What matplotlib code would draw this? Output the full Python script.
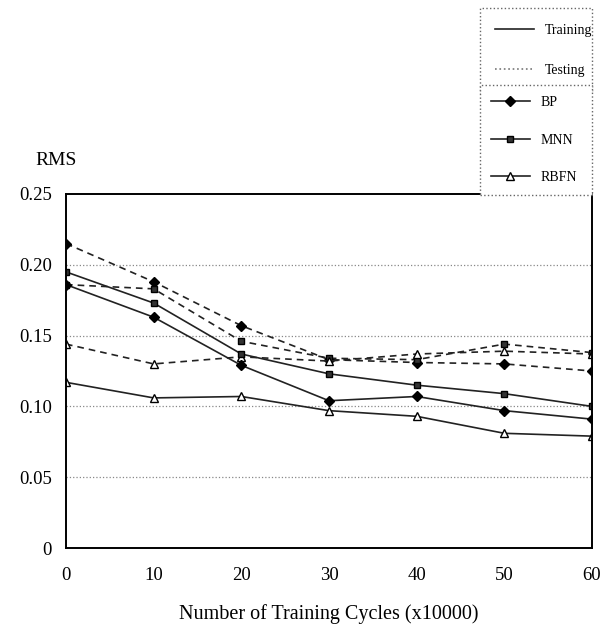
"""
RMS vs number of training cycles for BP, MNN and RBFN.
"""

import matplotlib

matplotlib.use("Agg")

import matplotlib.pyplot as plt
from matplotlib.lines import Line2D

plt.rcParams["font.family"] = ["Liberation Serif", "DejaVu Serif"]

ciclos = [0, 10, 20, 30, 40, 50, 60]

bp_treino = [0.186, 0.163, 0.129, 0.104, 0.107, 0.097, 0.091]
bp_teste = [0.215, 0.188, 0.157, 0.133, 0.131, 0.130, 0.125]

mnn_treino = [0.195, 0.173, 0.137, 0.123, 0.115, 0.109, 0.100]
mnn_teste = [0.186, 0.183, 0.146, 0.134, 0.133, 0.144, 0.138]

rbfn_treino = [0.117, 0.106, 0.107, 0.097, 0.093, 0.081, 0.079]
rbfn_teste = [0.144, 0.130, 0.135, 0.132, 0.137, 0.139, 0.137]

ticks_y = [0, 0.05, 0.10, 0.15, 0.20, 0.25]
rotulos_y = ["0", "0.05", "0.10", "0.15", "0.20", "0.25"]

tracejado = (0, (4, 3))

fig = plt.figure(figsize=(6.02, 6.35), dpi=100)
ax = fig.add_axes([0.1096, 0.137, 0.8738, 0.5575])

for valor in ticks_y[1:-1]:
    ax.axhline(valor, color="#888888", linestyle=":", linewidth=0.9, zorder=0)

# testing (dashed)
ax.plot(ciclos, bp_teste, color="#222222", linestyle=tracejado, linewidth=1.2,
        marker="D", markersize=5, markerfacecolor="black", markeredgecolor="black")
ax.plot(ciclos, mnn_teste, color="#222222", linestyle=tracejado, linewidth=1.2,
        marker="s", markersize=5, markerfacecolor="#333333", markeredgecolor="black")
ax.plot(ciclos, rbfn_teste, color="#222222", linestyle=tracejado, linewidth=1.2,
        marker="^", markersize=6, markerfacecolor="white", markeredgecolor="black")

# training (solid)
ax.plot(ciclos, bp_treino, color="#222222", linestyle="-", linewidth=1.2,
        marker="D", markersize=5, markerfacecolor="black", markeredgecolor="black")
ax.plot(ciclos, mnn_treino, color="#222222", linestyle="-", linewidth=1.2,
        marker="s", markersize=5, markerfacecolor="#333333", markeredgecolor="black")
ax.plot(ciclos, rbfn_treino, color="#222222", linestyle="-", linewidth=1.2,
        marker="^", markersize=6, markerfacecolor="white", markeredgecolor="black")

ax.set_xlim(0, 60)
ax.set_ylim(0, 0.25)
ax.set_xticks(ciclos)
ax.set_yticks(ticks_y)
ax.set_yticklabels(rotulos_y)
ax.tick_params(length=0, labelsize=13.5, pad=10)
ax.tick_params(axis="x", pad=14)

for lado in ax.spines.values():
    lado.set_linewidth(1.4)
    lado.set_color("black")

ax.set_xlabel("Number of Training Cycles (x10000)", fontsize=14.5, labelpad=14)
fig.text(0.058, 0.748, "RMS", fontsize=14, va="center")

# legend, two stacked boxes
entradas_tipo = [
    Line2D([], [], color="#222222", linestyle="-", linewidth=1.2),
    Line2D([], [], color="#777777", linestyle=":", linewidth=1.2),
]
leg1 = fig.legend(entradas_tipo, ["Training", "Testing"],
                  loc="upper left", bbox_to_anchor=(0.797, 0.866, 0.186, 0.121),
                  mode="expand", fontsize=10, handlelength=2.8, labelspacing=2.0,
                  borderaxespad=0, borderpad=1.1, fancybox=False, framealpha=1)
leg1.get_frame().set_linestyle(":")
leg1.get_frame().set_edgecolor("#666666")

entradas_modelo = [
    Line2D([], [], color="#222222", linewidth=1.2, marker="D", markersize=5,
           markerfacecolor="black", markeredgecolor="black"),
    Line2D([], [], color="#222222", linewidth=1.2, marker="s", markersize=5,
           markerfacecolor="#333333", markeredgecolor="black"),
    Line2D([], [], color="#222222", linewidth=1.2, marker="^", markersize=6,
           markerfacecolor="white", markeredgecolor="black"),
]
leg2 = fig.legend(entradas_modelo, ["BP", "MNN", "RBFN"],
                  loc="upper left", bbox_to_anchor=(0.797, 0.698, 0.186, 0.168),
                  mode="expand", fontsize=10, handlelength=2.8, labelspacing=1.75,
                  borderaxespad=0, borderpad=0.8, fancybox=False, framealpha=1)
leg2.get_frame().set_linestyle(":")
leg2.get_frame().set_edgecolor("#666666")

fig.savefig("out.png", dpi=100)
plt.close(fig)
